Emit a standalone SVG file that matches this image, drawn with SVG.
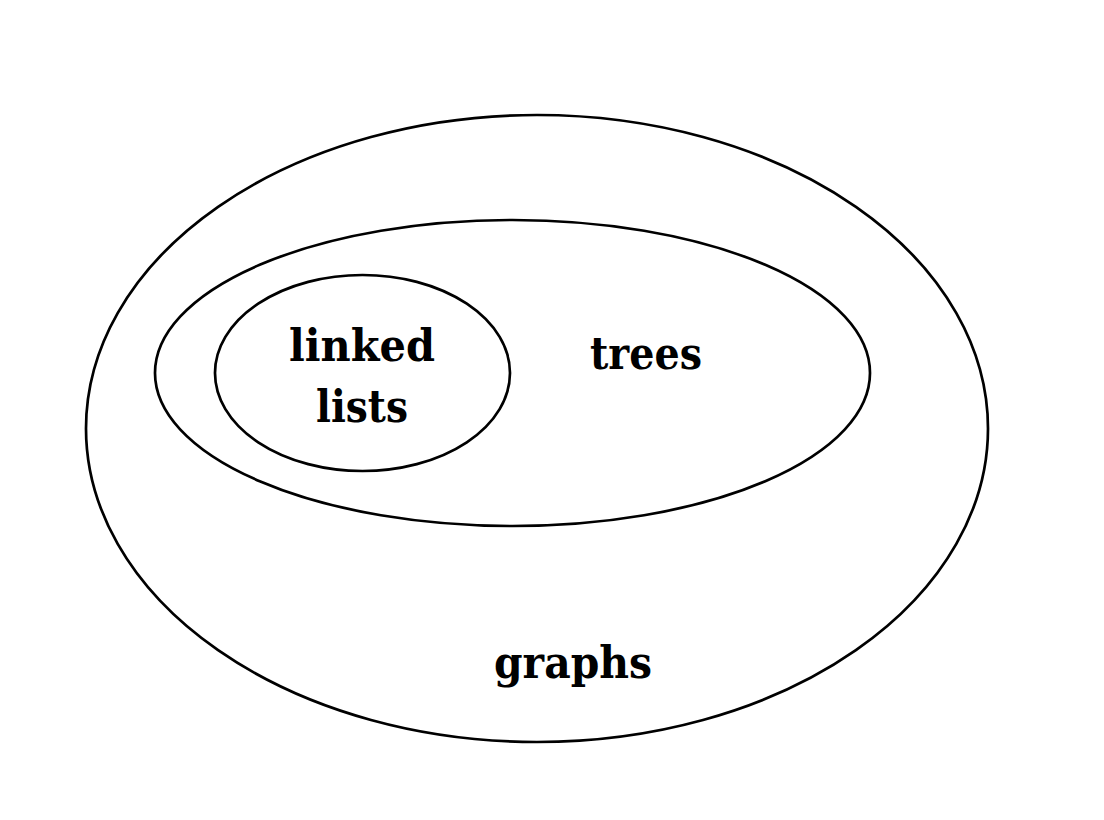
<svg xmlns="http://www.w3.org/2000/svg" width="1104" height="820" viewBox="0 0 1104 820">
<style>
.set{fill:none;stroke:#000;stroke-width:2.7}
.lbl{font-family:"DejaVu Serif","Liberation Serif",serif;font-size:45px;font-weight:bold;fill:#000;text-anchor:middle}
</style>
<rect width="1104" height="820" fill="#fff"/>
<g id="graphs">
<ellipse class="set" cx="537" cy="428.5" rx="451" ry="313.5"/>
<text class="lbl" x="573" y="678" textLength="158" lengthAdjust="spacingAndGlyphs">graphs</text>
</g>
<g id="trees">
<ellipse class="set" cx="512.5" cy="373" rx="357.5" ry="153"/>
<text class="lbl" x="646" y="369" textLength="112" lengthAdjust="spacingAndGlyphs">trees</text>
</g>
<g id="linked-lists">
<ellipse class="set" cx="362.5" cy="373" rx="147.5" ry="98"/>
<text class="lbl" x="362" y="361" textLength="146" lengthAdjust="spacingAndGlyphs">linked</text>
<text class="lbl" x="362" y="422" textLength="92" lengthAdjust="spacingAndGlyphs">lists</text>
</g>
<g id="connectors"></g>
</svg>
